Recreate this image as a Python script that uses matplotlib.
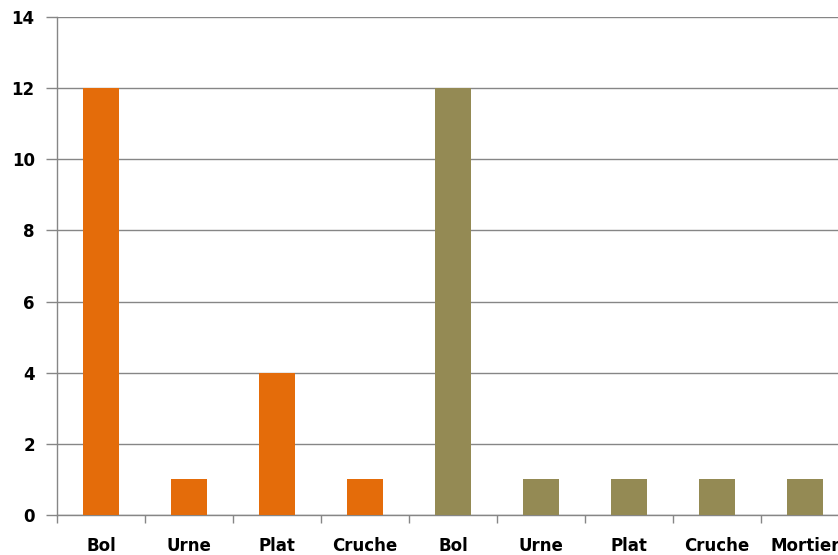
import matplotlib.pyplot as plt
import numpy as np

categories = ['Bol', 'Urne', 'Plat', 'Cruche', 'Bol', 'Urne', 'Plat', 'Cruche', 'Mortier']
values = [12, 1, 4, 1, 12, 1, 1, 1, 1]
group_a = 4  # first group has 4 categories
colors = ['#E46C0A'] * group_a + ['#948A54'] * (len(categories) - group_a)

fig = plt.figure(figsize=(8.38, 5.55), dpi=100)
# axes runs past the right edge, as in the original screenshot
ax = fig.add_axes([57 / 838, 40 / 555, 792 / 838, 498 / 555])

x = np.arange(len(categories))
ax.bar(x, values, width=0.41, color=colors, zorder=3)

ax.set_xlim(-0.5, len(categories) - 0.5)
ax.set_ylim(0, 14)
ax.set_yticks(range(0, 15, 2))
ax.yaxis.grid(True, color='#868686', linewidth=1.0, zorder=0)

ax.set_xticks(x)
ax.set_xticklabels(categories)
ax.set_xticks(np.arange(-0.5, len(categories), 1.0), minor=True)
ax.tick_params(axis='x', which='major', length=0, pad=16)
ax.tick_params(axis='x', which='minor', length=6, color='#868686', width=1)
ax.tick_params(axis='y', length=8, color='#868686', width=1, pad=8)

for lbl in ax.get_xticklabels() + ax.get_yticklabels():
    lbl.set_fontweight('bold')
    lbl.set_fontsize(12)
    lbl.set_family('DejaVu Sans')

for side in ['top', 'right']:
    ax.spines[side].set_visible(False)
for side in ['left', 'bottom']:
    ax.spines[side].set_color('#868686')
    ax.spines[side].set_linewidth(1.0)

fig.savefig('out.png', dpi=100)
